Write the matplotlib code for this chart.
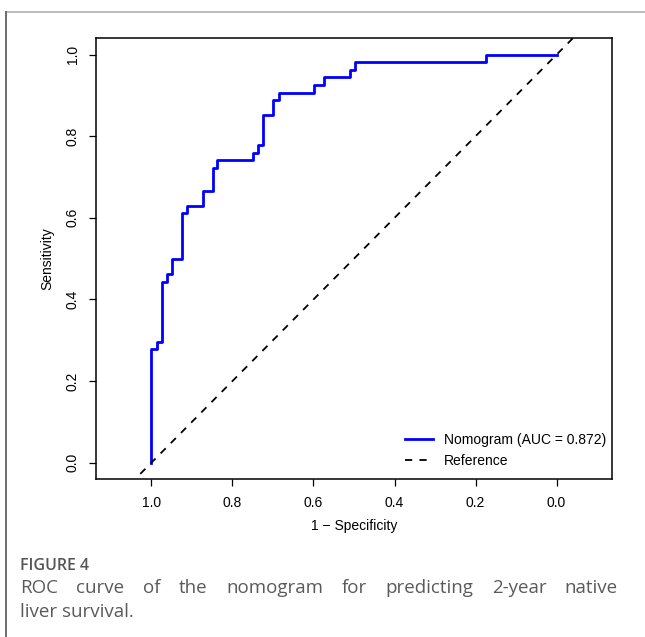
import matplotlib
matplotlib.use('Agg')
import matplotlib.pyplot as plt

# ROC corner points (specificity, sensitivity)
spec = [1.0, 1.0, 0.986, 0.975, 0.962, 0.949, 0.924, 0.912, 0.873, 0.849, 0.837,
        0.749, 0.736, 0.724, 0.699, 0.686, 0.598, 0.573, 0.511, 0.498, 0.174, 0.0]
sens = [0.0, 0.278, 0.296, 0.444, 0.463, 0.5, 0.611, 0.630, 0.667, 0.722, 0.741,
        0.759, 0.778, 0.852, 0.889, 0.907, 0.926, 0.944, 0.963, 0.981, 1.0, 1.0]
ticks = [1.0, 0.8, 0.6, 0.4, 0.2, 0.0]
auc_label = 'Nomogram (AUC = 0.872)'
ref_label = 'Reference'
fig_title = 'FIGURE 4'
caption1 = 'ROC curve of the nomogram for predicting 2-year native'
caption2 = 'liver survival.'

plt.rcParams['font.family'] = ['Liberation Sans', 'DejaVu Sans']

fig = plt.figure(figsize=(6.45, 6.37), dpi=100)
ax = fig.add_axes([96.3/645, 1-479/637, (611.7-96.3)/645, (479-38.3)/637])

ax.plot(spec, sens, drawstyle='steps-post', color='#0000ff', lw=2.0, label=auc_label)
ax.axline((1, 0), (0, 1), color='black', lw=1.3, ls=(0, (4, 4)), label=ref_label)

ax.set_xlim(1.136, -0.136)
ax.set_ylim(-0.04, 1.04)
ax.set_xticks(ticks)
ax.set_xticklabels(['%.1f' % t for t in ticks])
ax.set_yticks(ticks)
ax.set_yticklabels(['%.1f' % t for t in ticks], rotation=90, va='center')
ax.tick_params(direction='out', length=5, width=0.9, labelsize=10, colors='black', pad=7)
for s in ax.spines.values():
    s.set_linewidth(1.1)
ax.set_xlabel('1 \u2212 Specificity', fontsize=10, labelpad=7)
ax.set_ylabel('Sensitivity', fontsize=10, labelpad=8)

ax.legend(loc='lower right', frameon=False, fontsize=10, handlelength=2.0,
          bbox_to_anchor=(1.013, -0.004), labelspacing=0.55)

# page border (top and left)
fig.add_artist(plt.Line2D([6/645, 1], [1-12/637, 1-12/637], color='#b0b0b0', lw=1.2))
fig.add_artist(plt.Line2D([6/645, 6/645], [1-12/637, 0], color='#555555', lw=1.2))

fig.text(20/645, 1-566/637, fig_title, fontsize=11.5, fontweight='semibold',
         family='Open Sans', color='#555555', va='center')

# justified first caption line
words = caption1.split()
left, right = 20, 618
y1 = 1-588/637
txts = [fig.text(0, y1, w, fontsize=13.5, family='Open Sans', color='#5a5a5a', va='center')
        for w in words]
fig.canvas.draw()
r = fig.canvas.get_renderer()
widths = [t.get_window_extent(r).width for t in txts]
gap = (right - left - sum(widths)) / (len(words) - 1)
x = left
for t, w in zip(txts, widths):
    t.set_x(x/645)
    x += w + gap
fig.text(left/645, 1-612/637, caption2, fontsize=13.5, family='Open Sans',
         color='#5a5a5a', va='center')

fig.savefig('out.png', dpi=100)
